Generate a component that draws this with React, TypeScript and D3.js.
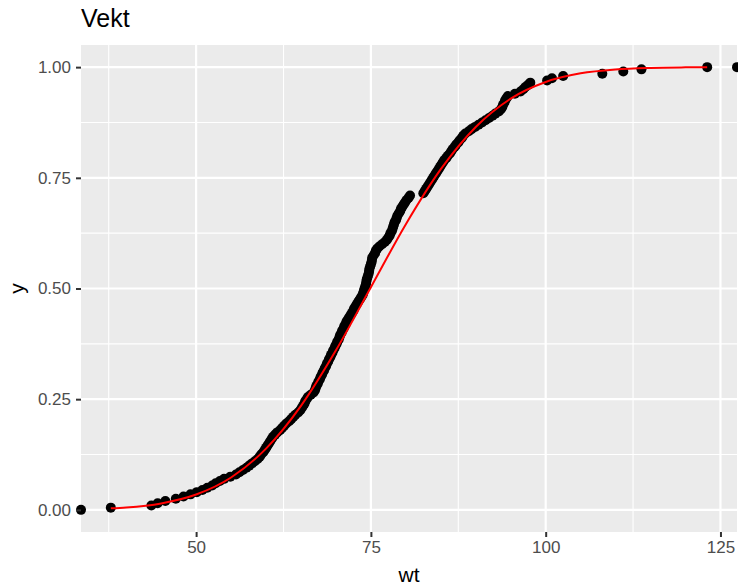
import React, { useEffect, useRef } from 'react';
import * as d3 from 'd3';

// weights (sorted)
const weights = [
  37.8, 43.6, 44.5, 45.6, 47.1, 48.2, 49.2, 50.1, 50.9, 51.6,
  52.3, 52.8, 53.4, 54.0, 54.9, 55.7, 56.2, 56.7, 57.2, 57.6,
  58.0, 58.4, 58.8, 59.1, 59.3, 59.6, 59.8, 60.0, 60.2, 60.4,
  60.6, 60.8, 61.0, 61.3, 61.6, 62.0, 62.3, 62.6, 62.9, 63.3,
  63.6, 63.9, 64.2, 64.6, 64.9, 65.1, 65.3, 65.5, 65.6, 65.8,
  66.0, 66.4, 66.8, 67.0, 67.1, 67.2, 67.4, 67.5, 67.7, 67.8,
  68.0, 68.1, 68.3, 68.4, 68.6, 68.7, 68.9, 69.0, 69.2, 69.3,
  69.5, 69.6, 69.8, 69.9, 70.1, 70.2, 70.4, 70.5, 70.6, 70.8,
  70.9, 71.1, 71.2, 71.4, 71.5, 71.7, 71.9, 72.1, 72.3, 72.5,
  72.6, 72.8, 73.0, 73.2, 73.4, 73.6, 73.8, 73.9, 74.0, 74.1,
  74.2, 74.3, 74.35, 74.4, 74.5, 74.6, 74.7, 74.75, 74.8, 74.9,
  75.0, 75.1, 75.15, 75.2, 75.4, 75.6, 75.7, 75.9, 76.2, 76.6,
  77.0, 77.3, 77.5, 77.7, 77.8, 78.0, 78.1, 78.2, 78.3, 78.4,
  78.6, 78.7, 78.8, 79.0, 79.2, 79.3, 79.5, 79.7, 79.9, 80.1,
  80.4, 80.6, 82.5, 82.7, 82.9, 83.1, 83.3, 83.5, 83.7, 83.9,
  84.1, 84.3, 84.5, 84.7, 84.9, 85.1, 85.3, 85.5, 85.8, 86.0,
  86.3, 86.5, 86.7, 87.0, 87.2, 87.5, 87.7, 88.0, 88.2, 88.5,
  89.0, 89.4, 89.9, 90.4, 90.9, 91.4, 91.9, 92.4, 92.8, 93.3,
  93.6, 93.8, 93.9, 94.1, 94.2, 94.4, 94.6, 95.6, 96.4, 96.8,
  97.1, 97.5, 97.8, 100.2, 100.9, 102.5, 108.1, 111.1, 113.7, 123.1
];

// red reference curve
const curveWt = [37.8, 40, 45, 50, 55, 60, 65, 70, 75, 80, 85, 90, 95, 100, 105, 110, 115, 120, 123.1];
const curveP = [0.0034, 0.0054, 0.0146, 0.0346, 0.0731, 0.1383, 0.2349, 0.3603, 0.5029, 0.6452,
  0.7695, 0.8648, 0.9289, 0.9665, 0.986, 0.9948, 0.9983, 0.9995, 0.9998];

const xTicks = [50, 75, 100, 125];
const yTicks = [0, 0.25, 0.5, 0.75, 1];

export default function App() {
  const ref = useRef<SVGSVGElement>(null);

  useEffect(() => {
    const width = 738;
    const height = 585;
    const left = 81, right = 737, top = 45, bottom = 532;
    const font = "'Liberation Sans', Arial, Helvetica, sans-serif";

    const svg = d3.select(ref.current);
    svg.selectAll('*').remove();

    const [lo, hi] = d3.extent(weights) as [number, number];
    const pad = (hi - lo) * 0.05;
    const x = d3.scaleLinear().domain([lo - pad, hi + pad]).range([left, right]);
    const y = d3.scaleLinear().domain([-0.05, 1.05]).range([bottom, top]);

    svg.append('rect')
      .attr('x', left).attr('y', top)
      .attr('width', right - left).attr('height', bottom - top)
      .attr('fill', '#EBEBEB');

    // minor grid
    const xMinor = xTicks.slice(0, -1).map(t => t + 12.5).concat([xTicks[0] - 12.5]);
    const yMinor = yTicks.slice(0, -1).map(t => t + 0.125);
    svg.selectAll('line.xminor').data(xMinor).enter().append('line')
      .attr('x1', d => x(d)).attr('x2', d => x(d)).attr('y1', top).attr('y2', bottom)
      .attr('stroke', 'white').attr('stroke-width', 1.1);
    svg.selectAll('line.yminor').data(yMinor).enter().append('line')
      .attr('y1', d => y(d)).attr('y2', d => y(d)).attr('x1', left).attr('x2', right)
      .attr('stroke', 'white').attr('stroke-width', 1.1);

    // major grid
    svg.selectAll('line.xmajor').data(xTicks).enter().append('line')
      .attr('x1', d => x(d)).attr('x2', d => x(d)).attr('y1', top).attr('y2', bottom)
      .attr('stroke', 'white').attr('stroke-width', 2.2);
    svg.selectAll('line.ymajor').data(yTicks).enter().append('line')
      .attr('y1', d => y(d)).attr('y2', d => y(d)).attr('x1', left).attr('x2', right)
      .attr('stroke', 'white').attr('stroke-width', 2.2);

    // ecdf points, padded with -Inf / Inf at the panel edges
    const n = weights.length;
    const pts: [number, number][] = weights.map((w, i) => [x(w), y((i + 1) / n)]);
    pts.unshift([left, y(0)]);
    pts.push([right, y(1)]);

    const g = svg.append('g');
    g.selectAll('circle').data(pts).enter().append('circle')
      .attr('cx', d => d[0]).attr('cy', d => d[1]).attr('r', 5)
      .attr('fill', 'black');

    const line = d3.line<number>()
      .x((d, i) => x(curveWt[i]))
      .y(d => y(d))
      .curve(d3.curveMonotoneX);
    svg.append('path')
      .attr('d', line(curveP))
      .attr('fill', 'none')
      .attr('stroke', 'red')
      .attr('stroke-width', 2);

    // axes
    const xAxis = svg.append('g').attr('transform', `translate(0, ${bottom})`)
      .call(d3.axisBottom(x).tickValues(xTicks).tickSize(5).tickPadding(4).tickFormat(d3.format('d')));
    xAxis.select('.domain').remove();
    xAxis.selectAll('.tick line').attr('stroke', '#333333').attr('stroke-width', 2);
    xAxis.selectAll('.tick text')
      .style('font-size', '17px').style('font-family', font).attr('fill', '#4D4D4D');

    const yAxis = svg.append('g').attr('transform', `translate(${left}, 0)`)
      .call(d3.axisLeft(y).tickValues(yTicks).tickSize(5).tickPadding(5).tickFormat(d3.format('.2f')));
    yAxis.select('.domain').remove();
    yAxis.selectAll('.tick line').attr('stroke', '#333333').attr('stroke-width', 2);
    yAxis.selectAll('.tick text')
      .style('font-size', '17px').style('font-family', font).attr('fill', '#4D4D4D');

    svg.append('text')
      .attr('x', (left + right) / 2).attr('y', 582)
      .attr('text-anchor', 'middle')
      .style('font-size', '21px').style('font-family', font)
      .text('wt');

    svg.append('text')
      .attr('transform', `translate(24, ${(top + bottom) / 2}) rotate(-90)`)
      .attr('text-anchor', 'middle')
      .style('font-size', '21px').style('font-family', font)
      .text('y');

    svg.append('text')
      .attr('x', left).attr('y', 27)
      .style('font-size', '25px').style('font-family', font)
      .text('Vekt');

    svg.attr('width', width).attr('height', height);
  }, []);

  return (
    <div>
      <svg ref={ref} style={{ position: 'absolute', left: 0, top: 0, background: 'white' }} />
    </div>
  );
}
